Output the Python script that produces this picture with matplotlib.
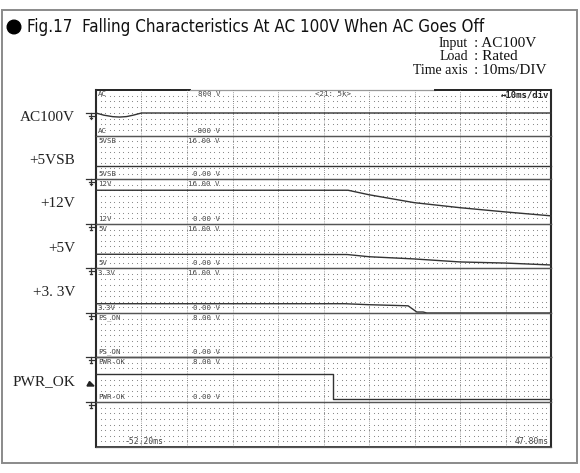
import matplotlib
matplotlib.use('Agg')
import numpy as np
import matplotlib.pyplot as plt
from matplotlib.patches import Circle, Polygon, Rectangle

W, H = 580, 473

# traces: time in ms, level in V
ac_t = [-52.2, -50.5, -48.5, -47.0, -45.5, -44.0, -42.2, 47.8]
ac_v = [0, -75, -128, -141, -125, -75, 0, 0]
vsb_t = [-52.2, 47.8]
vsb_v = [5.0, 5.0]
v12_t = [-52.2, 3.2, 7.8, 17.7, 27.8, 37.7, 47.8]
v12_v = [12.0, 12.0, 10.4, 7.6, 5.8, 4.3, 2.9]
v5_t = [-52.2, 3.0, 7.8, 17.7, 27.8, 37.7, 47.8]
v5_v = [5.0, 4.9, 4.1, 3.3, 2.2, 1.8, 1.1]
v33_t = [-52.2, 2.5, 7.8, 15.5, 16.4, 18.3, 19.7, 20.5, 47.8]
v33_v = [3.3, 3.3, 2.95, 2.6, 2.55, 0.35, 0.35, 0.0, 0.0]
pson_t = [-52.2, 47.8]
pson_v = [0.0, 0.0]
pwrok_t = [-52.2, -0.2, -0.2, 47.8]
pwrok_v = [5.0, 5.0, 0.45, 0.45]

ch_names = ['AC', '5VSB', '12V', '5V', '3.3V', 'PS_ON', 'PWR-OK']
ch_top = ['800 V', '16.00 V', '16.00 V', '16.00 V', '16.00 V', '8.00 V', '8.00 V']
ch_bottom = ['-800 V', '0.00 V', '0.00 V', '0.00 V', '0.00 V', '0.00 V', '0.00 V']
ch_range = [(-800, 800), (0, 16), (0, 16), (0, 16), (0, 16), (0, 8), (0, 8)]
ch_data = [(ac_t, ac_v), (vsb_t, vsb_v), (v12_t, v12_v), (v5_t, v5_v),
           (v33_t, v33_v), (pson_t, pson_v), (pwrok_t, pwrok_v)]

side_labels = ['AC100V', '+5VSB', '+12V', '+5V', '+3. 3V', 'PWR_OK']
t_start, t_end = -52.2, 47.8

# layout in pixels
edges = [90, 136, 179, 224, 268, 313, 357, 402, 447]
x0, x1 = 96, 551
side_y = [117, 160, 203, 248, 292, 382]

fig = plt.figure(figsize=(W / 100, H / 100), dpi=100)
fig.patch.set_facecolor('white')

# overlay in pixel coordinates for the page decorations
ov = fig.add_axes([0, 0, 1, 1])
ov.set_xlim(0, W)
ov.set_ylim(H, 0)
ov.axis('off')

ov.add_patch(Rectangle((2, 10), 575, 453, fill=False, ec='#8a8a8a', lw=1.4))
ov.add_patch(Circle((14, 27), 6.8, color='black'))
title = ov.text(27, 26.5, 'Fig.17  Falling Characteristics At AC 100V When AC Goes Off',
                family=['DejaVu Sans'], fontstretch='condensed', fontsize=14.5,
                va='center', ha='left', color='#111')
# squeeze the title to the width it has in the figure
renderer = fig.canvas.get_renderer()
tw = title.get_window_extent(renderer).width
if tw > 456:
    title.set_fontsize(14.5 * 456 / tw)

serif = ['Liberation Serif', 'DejaVu Serif']
info = [('Input', ': AC100V'), ('Load', ': Rated'), ('Time axis', ': 10ms/DIV')]
for i, (k, v) in enumerate(info):
    y = 43.5 + 13.3 * i
    ov.text(468, y, k, family=serif, fontsize=10, ha='right', va='center', color='#111')
    ov.text(474, y, v, family=serif, fontsize=11, ha='left', va='center', color='#111')

for lab, y in zip(side_labels, side_y):
    ov.text(75, y, lab, family=serif, fontsize=11, ha='right', va='center', color='#222')

# ground markers: AC at its centre line, the rest at each channel's 0 V line
gnd_y = [(edges[0] + edges[1]) / 2] + edges[2:8]
for gy in gnd_y:
    ov.plot([86, 96], [gy, gy], color='#333', lw=0.9)
    ov.plot([91, 91], [gy, gy + 6], color='#333', lw=0.9)
    ov.plot([88.5, 93.5], [gy + 3, gy + 3], color='#333', lw=0.9)
    ov.plot([89.8, 92.2], [gy + 5.5, gy + 5.5], color='#333', lw=0.9)
ov.add_patch(Polygon([(87, 386), (94, 386), (89.5, 381.5)], closed=True, color='#222'))

# scope strips
mono = 'DejaVu Sans Mono'
n_strips = len(edges) - 1
for i in range(n_strips):
    top, bot = edges[i], edges[i + 1]
    ax = fig.add_axes([x0 / W, 1 - bot / H, (x1 - x0) / W, (bot - top) / H])
    ax.set_xlim(t_start, t_end)
    lo, hi = ch_range[i] if i < len(ch_range) else (0, 1)
    ax.set_ylim(lo, hi)
    ax.set_xticks([])
    ax.set_yticks([])
    ax.patch.set_alpha(0)
    for s in ['top', 'bottom']:
        ax.spines[s].set_color('#555')
        ax.spines[s].set_linewidth(0.9)
    for s in ['left', 'right']:
        ax.spines[s].set_color('#2a2a2a')
        ax.spines[s].set_linewidth(1.5)
    if i == 0:
        ax.spines['top'].set_visible(False)

    # dotted screen grid
    tx = t_start + np.arange(0, 101)
    rows = lo + (hi - lo) * np.arange(1, 8) / 8
    gx, gy = np.meshgrid(tx, rows)
    ax.scatter(gx.ravel(), gy.ravel(), s=0.6, color='#7a7a7a', lw=0, zorder=1)
    for k in range(1, 10):
        ax.axvline(t_start + 10 * k, color='#7a7a7a', lw=0.6, ls=(0, (1, 1.6)), zorder=1)

    if i < len(ch_data):
        t, v = ch_data[i]
        ax.plot(t, v, color='#333', lw=1.0, zorder=3, clip_on=False)
        ov.text(98, top + 4.5, ch_names[i], family=mono, fontsize=5.3, color='#444', va='center')
        ov.text(220, top + 4.5, ch_top[i], family=mono, fontsize=5.3, color='#444', va='center', ha='right')
        ov.text(98, bot - 5.5, ch_names[i], family=mono, fontsize=5.3, color='#444', va='center')
        ov.text(220, bot - 5.5, ch_bottom[i], family=mono, fontsize=5.3, color='#444', va='center', ha='right')

# top border of the screen: dark ends, light middle
ov.plot([x0, 190], [edges[0], edges[0]], color='#222', lw=1.4)
ov.plot([190, 435], [edges[0], edges[0]], color='#999', lw=0.9)
ov.plot([435, x1], [edges[0], edges[0]], color='#222', lw=1.4)
ov.plot([x0, x1], [edges[-1], edges[-1]], color='#222', lw=1.2)

ov.text(315, edges[0] + 4.5, '<21: 5k>', family=mono, fontsize=5.3, color='#444', va='center')
ov.text(549, edges[0] + 4.5, '\u219410ms/div', family=mono, fontsize=6.5, weight='bold',
        color='#222', va='center', ha='right')
ov.text(125, edges[-1] - 6, '-52.20ms', family=mono, fontsize=5.8, color='#444', va='center')
ov.text(549, edges[-1] - 6, '47.80ms', family=mono, fontsize=5.8, color='#444', va='center', ha='right')

fig.savefig('out.png', dpi=100)
